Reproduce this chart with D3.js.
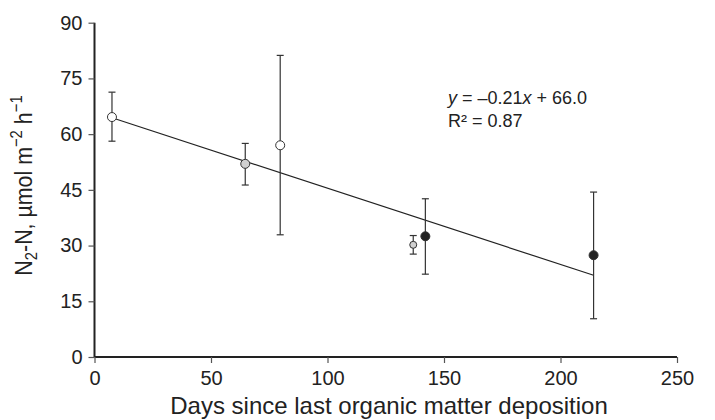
<!DOCTYPE html>
<html>
<head>
<meta charset="utf-8">
<script src="https://cdn.jsdelivr.net/npm/d3@7"></script>
<style>
  body { margin: 0; background: #fff; }
  text { font-family: "Liberation Sans", Arial, sans-serif; fill: #222; }
</style>
</head>
<body>
<svg id="chart"></svg>
<script>
const days = [7.5, 64.7, 79.7, 136.8, 142.0, 214.2];
const n2 = [64.6, 52.0, 57.0, 30.2, 32.5, 27.4];
const errHigh = [71.3, 57.5, 81.2, 32.7, 42.6, 44.4];
const errLow = [58.1, 46.3, 32.9, 27.7, 22.3, 10.3];
const fills = ["#fff", "#d0d0d0", "#fff", "#d0d0d0", "#222", "#222"];
const sizes = [4.5, 4.5, 4.5, 3.5, 4.5, 4.5];
const fitLine = [[7.5, 64.4], [214.2, 22.0]];
const xTicks = [0, 50, 100, 150, 200, 250];
const yTicks = [0, 15, 30, 45, 60, 75, 90];

const WIDTH = 715, HEIGHT = 420;
const margin = { top: 22.7, right: 38, bottom: 63, left: 94.5 };

const svg = d3.select("#chart")
    .attr("width", WIDTH)
    .attr("height", HEIGHT);

const x = d3.scaleLinear().domain([0, 250]).range([margin.left, WIDTH - margin.right]);
const y = d3.scaleLinear().domain([0, 90]).range([HEIGHT - margin.bottom, margin.top]);

const points = days.map((d, i) => ({
    x: d, y: n2[i], hi: errHigh[i], lo: errLow[i], fill: fills[i], r: sizes[i]
}));

// axes
const xAxis = svg.append("g")
    .attr("transform", `translate(0,${y(0)})`)
    .call(d3.axisBottom(x).tickValues(xTicks).tickSize(6).tickPadding(8));
const yAxis = svg.append("g")
    .attr("transform", `translate(${x(0)},0)`)
    .call(d3.axisLeft(y).tickValues(yTicks).tickSize(6).tickPadding(6));

[xAxis, yAxis].forEach(g => {
    g.select(".domain").attr("stroke", "#222").attr("stroke-width", 2);
    g.selectAll(".tick line").attr("stroke", "#555").attr("stroke-width", 1.2);
    g.selectAll(".tick text")
        .style("font-size", "20px")
        .style("font-family", "'Liberation Sans', Arial, sans-serif")
        .attr("fill", "#222");
});
yAxis.select(".domain").attr("d", `M0,${y(90)}V${y(0)}`);
xAxis.select(".domain").attr("d", `M${x(0)},0H${x(250)}`);

// regression line
svg.append("line")
    .attr("x1", x(fitLine[0][0])).attr("y1", y(fitLine[0][1]))
    .attr("x2", x(fitLine[1][0])).attr("y2", y(fitLine[1][1]))
    .attr("stroke", "#222").attr("stroke-width", 1.2);

// error bars
const bars = svg.append("g").attr("stroke", "#333").attr("stroke-width", 1.2);
bars.selectAll("line.err")
    .data(points).enter().append("line")
    .attr("class", "err")
    .attr("x1", d => x(d.x)).attr("x2", d => x(d.x))
    .attr("y1", d => y(d.hi)).attr("y2", d => y(d.lo));
bars.selectAll("line.cap-hi")
    .data(points).enter().append("line")
    .attr("class", "cap-hi")
    .attr("x1", d => x(d.x) - 3.5).attr("x2", d => x(d.x) + 3.5)
    .attr("y1", d => y(d.hi)).attr("y2", d => y(d.hi));
bars.selectAll("line.cap-lo")
    .data(points).enter().append("line")
    .attr("class", "cap-lo")
    .attr("x1", d => x(d.x) - 3.5).attr("x2", d => x(d.x) + 3.5)
    .attr("y1", d => y(d.lo)).attr("y2", d => y(d.lo));

// markers
svg.selectAll("circle.pt")
    .data(points).enter().append("circle")
    .attr("class", "pt")
    .attr("cx", d => x(d.x)).attr("cy", d => y(d.y))
    .attr("r", d => d.r)
    .attr("fill", d => d.fill)
    .attr("stroke", "#333").attr("stroke-width", 1);

// equation
const eq = svg.append("text")
    .attr("x", 448).attr("y", 104)
    .style("font-size", "18px");
eq.append("tspan").style("font-style", "italic").text("y");
eq.append("tspan").text(" = \u20130.21");
eq.append("tspan").style("font-style", "italic").text("x");
eq.append("tspan").text(" + 66.0");
svg.append("text")
    .attr("x", 448).attr("y", 127)
    .style("font-size", "18px")
    .text("R\u00b2 = 0.87");

// axis titles
svg.append("text")
    .attr("x", 389).attr("y", 414)
    .attr("text-anchor", "middle")
    .style("font-size", "24px")
    .text("Days since last organic matter deposition");

// reference text looks stretched sideways, so squeeze along the reading direction
const yl = svg.append("text")
    .attr("transform", `translate(32,${185.5}) rotate(-90) scale(0.93,1.08)`)
    .attr("text-anchor", "middle")
    .style("font-size", "23px");
yl.append("tspan").text("N");
yl.append("tspan").attr("dy", 5).style("font-size", "16px").text("2");
yl.append("tspan").attr("dy", -5).text("-N, \u00b5mol m");
yl.append("tspan").attr("dy", -9).style("font-size", "16px").text("\u22122");
yl.append("tspan").attr("dy", 9).text(" h");
yl.append("tspan").attr("dy", -9).style("font-size", "16px").text("\u22121");
</script>
</body>
</html>
